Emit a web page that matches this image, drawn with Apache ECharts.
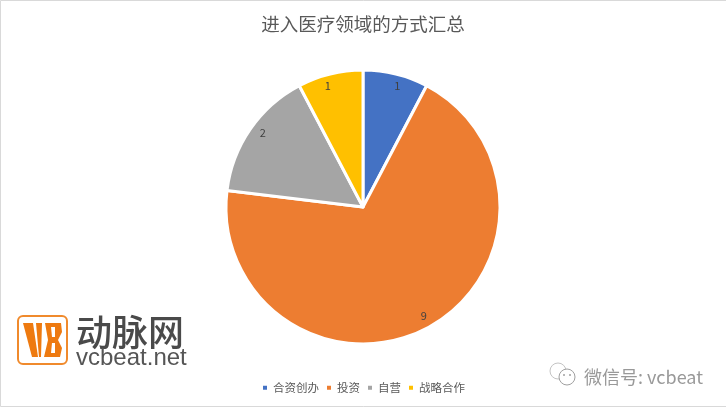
<!DOCTYPE html>
<html>
<head>
<meta charset="utf-8">
<style>
html, body { margin: 0; padding: 0; background: #fff; }
#chart { width: 726px; height: 408px; }
</style>
<script src="https://cdn.jsdelivr.net/npm/echarts@6/dist/echarts.min.js"></script>
</head>
<body>
<div id="chart"></div>
<script>
const categories = ['合资创办', '投资', '自营', '战略合作'];
const counts = [1, 9, 2, 1];
const sliceColors = ['#4472c4', '#ed7d31', '#a5a5a5', '#ffc000'];
const titleText = '进入医疗领域的方式汇总';

const fontName = '"Noto Sans CJK SC", "Noto Sans", sans-serif';
const pieData = categories.map((name, i) => ({ name: name, value: counts[i] }));
// small hand nudges so the value labels sit where the reference has them
const labelNudges = [[4, 2], [2, -3], [4, -2], [-5, 2]];
const labelData = pieData.map((d, i) => ({ ...d, label: { offset: labelNudges[i] } }));
const logoOrange = '#ee7a10';

let myChart = echarts.init(document.getElementById('chart'), null, { renderer: 'canvas' });
let option = {
    animation: false,
    backgroundColor: '#fff',
    color: sliceColors,
    title: {
        text: titleText,
        left: 'center',
        top: 10,
        textStyle: { fontFamily: fontName, fontSize: 18.5, fontWeight: 'normal', color: '#595959' }
    },
    legend: {
        data: categories,
        left: 'center',
        top: 377,
        icon: 'rect',
        itemWidth: 6,
        itemHeight: 6,
        itemGap: 6,
        textStyle: { fontFamily: fontName, fontSize: 11.5, color: '#595959' }
    },
    series: [
        {
            type: 'pie',
            center: [363, 207],
            radius: [0, 137],
            startAngle: 90,
            clockwise: true,
            data: pieData,
            label: { show: false },
            labelLine: { show: false },
            itemStyle: { borderColor: '#fff', borderWidth: 3 }
        },
        {
            // transparent ring, only there to push the value labels out near the rim
            type: 'pie',
            center: [363, 207],
            radius: [110, 137],
            startAngle: 90,
            clockwise: true,
            silent: true,
            data: labelData,
            itemStyle: { color: 'transparent' },
            label: {
                show: true,
                position: 'inside',
                formatter: '{c}',
                fontFamily: fontName,
                fontSize: 11,
                color: '#404040'
            },
            labelLine: { show: false }
        }
    ],
    graphic: [
        // picture frame
        { type: 'rect', shape: { x: 0.5, y: 0.5, width: 800, height: 406 }, style: { fill: 'none', stroke: '#d9d9d9', lineWidth: 1 } },
        // logo
        { type: 'rect', shape: { x: 18, y: 316, width: 49, height: 48, r: 5 }, style: { fill: '#fff', stroke: '#f08a2c', lineWidth: 2 } },
        { type: 'polygon', shape: { points: [[23, 323], [33, 323], [38, 357], [32, 357]] }, style: { fill: logoOrange } },
        { type: 'polygon', shape: { points: [[36, 323], [42, 323], [41, 357], [39, 357]] }, style: { fill: logoOrange } },
        { type: 'polygon', shape: { points: [[45, 323], [61, 323], [62, 332], [58, 340], [62, 348], [60, 357], [44, 357], [48, 340]] }, style: { fill: logoOrange } },
        { type: 'polygon', shape: { points: [[51, 327], [55, 327], [55, 337], [52, 337]] }, style: { fill: '#fff' } },
        { type: 'polygon', shape: { points: [[52, 343], [55, 343], [55, 353], [51, 353]] }, style: { fill: '#fff' } },
        { type: 'text', x: 76, y: 332, style: { text: '动脉网', fontFamily: fontName, fontSize: 36, fontWeight: 500, fill: '#4a4a4a', verticalAlign: 'middle' } },
        { type: 'text', x: 76, y: 358, style: { text: 'vcbeat.net', fontFamily: 'Liberation Sans', fontSize: 24, fill: '#555', verticalAlign: 'middle' } },
        // wechat mark
        { type: 'circle', shape: { cx: 558, cy: 371, r: 8 }, style: { fill: '#fff', stroke: '#c4c4c4', lineWidth: 1 } },
        { type: 'circle', shape: { cx: 567, cy: 377, r: 8 }, style: { fill: '#fff', stroke: '#a0a0a0', lineWidth: 1 } },
        { type: 'circle', shape: { cx: 564, cy: 375, r: 1 }, style: { fill: '#a0a0a0' } },
        { type: 'circle', shape: { cx: 570, cy: 375, r: 1 }, style: { fill: '#a0a0a0' } },
        { type: 'text', x: 584, y: 377, style: { text: '微信号: vcbeat', fontFamily: fontName, fontSize: 18, fill: '#999', verticalAlign: 'middle' } }
    ]
};

option && myChart.setOption(option);
</script>
</body>
</html>
